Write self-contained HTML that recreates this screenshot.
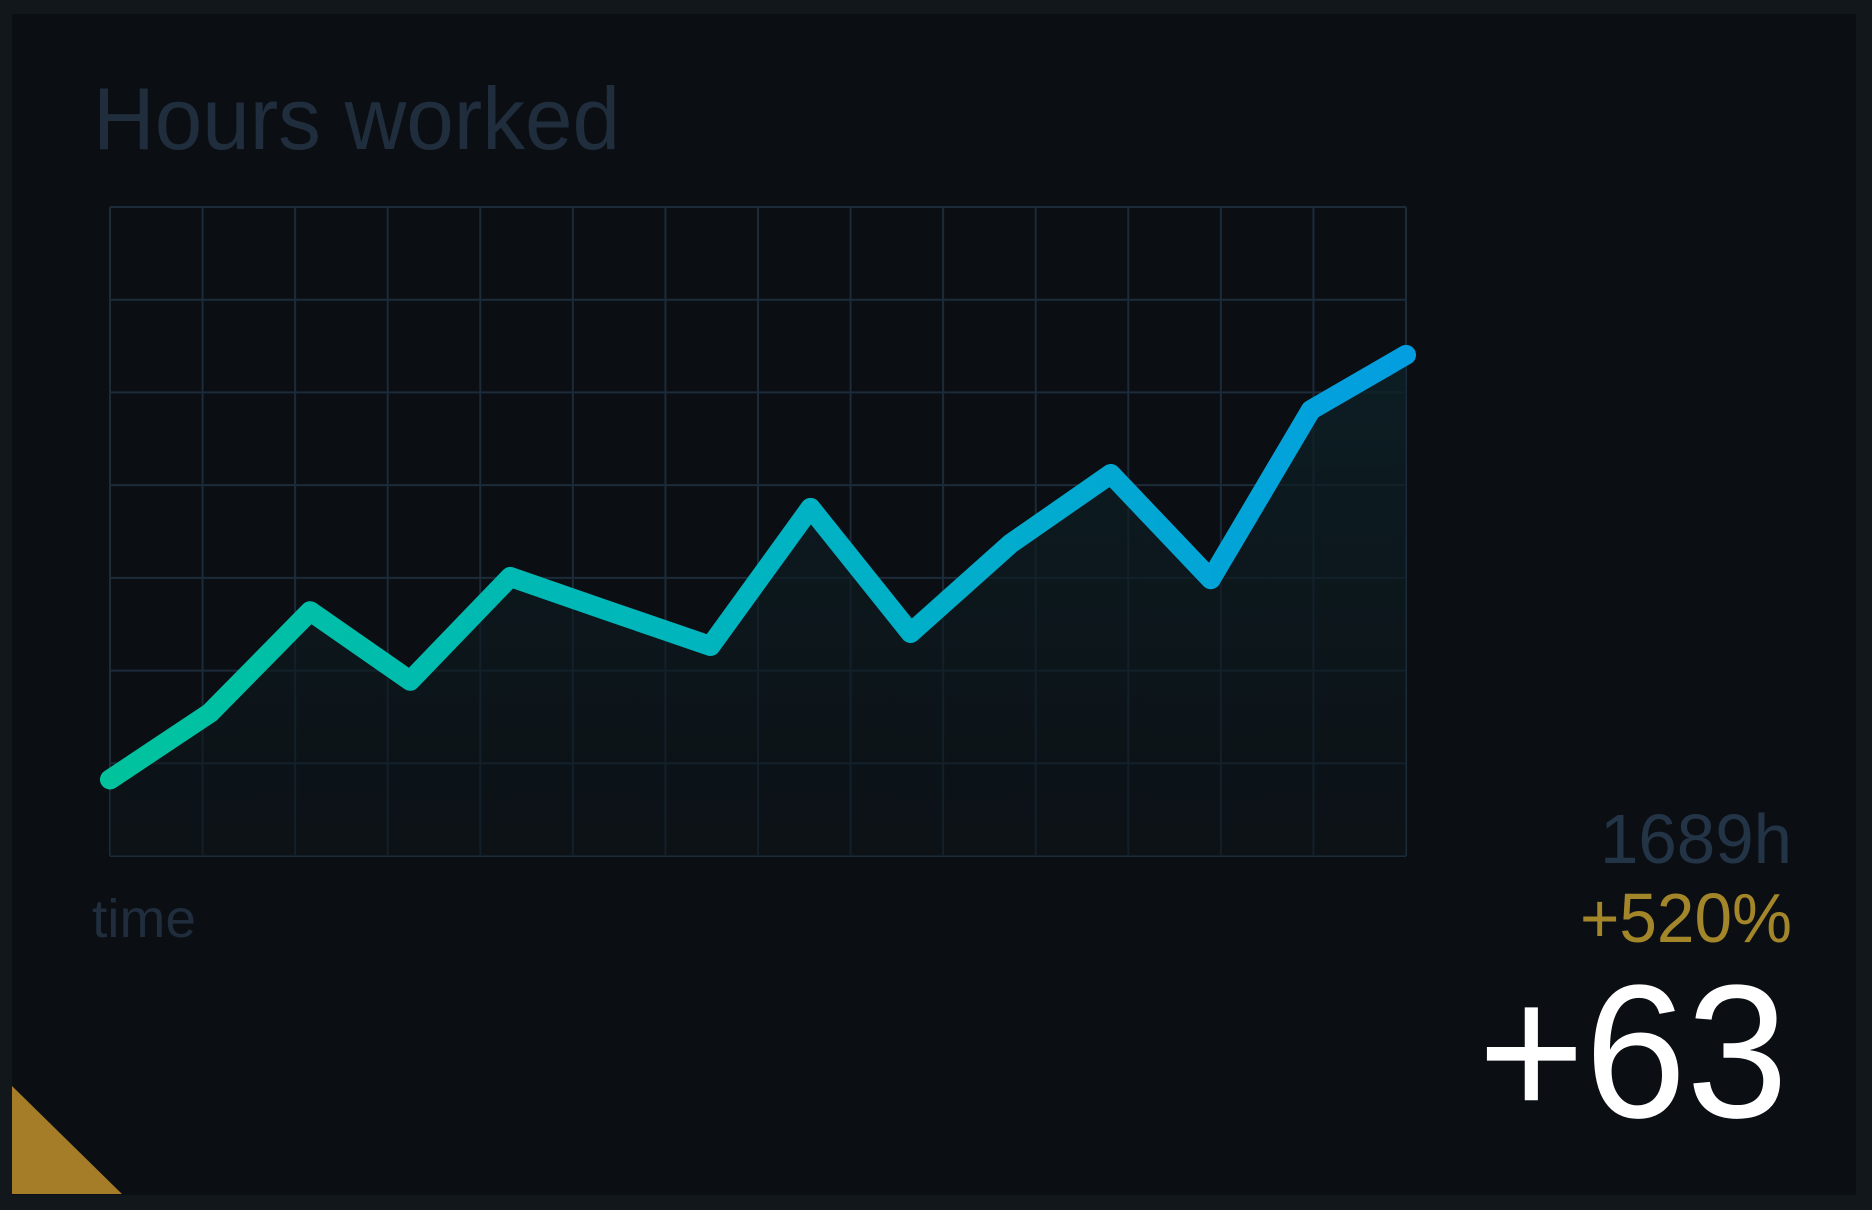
<!DOCTYPE html>
<html><head><meta charset="utf-8"><style>
html,body{margin:0;padding:0;background:#12171c;}
svg{display:block;}
text{font-family:"Liberation Sans",sans-serif;}
</style></head><body>
<svg id="chart" width="1872" height="1210" viewBox="0 0 1872 1210" xmlns="http://www.w3.org/2000/svg">
<defs>
<linearGradient id="lineGrad" x1="0" x2="1" y1="0" y2="0">
<stop offset="0" stop-color="#00c39d"/><stop offset="0.55" stop-color="#00b2c4"/><stop offset="1" stop-color="#039ee0"/>
</linearGradient>
<linearGradient id="fillGrad" x1="0" x2="0" y1="0" y2="1">
<stop offset="0" stop-color="#0d2228" stop-opacity="0.8"/><stop offset="1" stop-color="#0c1418" stop-opacity="0.5"/>
</linearGradient>
</defs>
<rect x="12" y="14" width="1844" height="1181" fill="#0b0f14"/>
<g id="grid"></g>
<path id="area" fill="url(#fillGrad)"/>
<path id="line" fill="none" stroke="url(#lineGrad)" stroke-width="20" stroke-linejoin="round" stroke-linecap="round"/>
<text x="93" y="149" font-size="88" fill="#1f2d3d" textLength="527" lengthAdjust="spacingAndGlyphs">Hours worked</text>
<text x="92" y="937" font-size="54" fill="#1f2d3d" textLength="104" lengthAdjust="spacingAndGlyphs">time</text>
<text x="1792" y="863" font-size="70" fill="#243447" text-anchor="end" textLength="192" lengthAdjust="spacingAndGlyphs">1689h</text>
<text x="1792" y="942" font-size="70" fill="#a3852a" text-anchor="end" textLength="212" lengthAdjust="spacingAndGlyphs">+520%</text>
<text x="1788" y="1117" font-size="190" fill="#ffffff" text-anchor="end" textLength="310" lengthAdjust="spacingAndGlyphs">+63</text>
<polygon points="12,1086 12,1194 122,1194" fill="#a57c27"/>
</svg>
<script>
const categories = [0,1,2,3,4,5,6,7,8,9,10,11,12,12.95];
const hours = [16.5,30.9,52.8,37.8,60.2,52.7,45.3,75.1,48.1,67.4,82.4,59.7,96.2,108.1];
const yTicks = [0,20,40,60,80,100,120,140];
const xGridCount = 14;

const X0=110, X1=1406, Y0=856, Y1=207;
function xScale(i){ return X0 + (i - categories[0])/(categories[categories.length-1]-categories[0])*(X1-X0); }
function yScale(v){ return Y0 - (v - yTicks[0])/(yTicks[yTicks.length-1]-yTicks[0])*(Y0-Y1); }

const NS="http://www.w3.org/2000/svg";
const grid=document.getElementById('grid');
for(let k=0;k<=xGridCount;k++){
  const x=X0+k*(X1-X0)/xGridCount;
  const l=document.createElementNS(NS,'line');
  
  
  l.setAttribute('x1',x);l.setAttribute('x2',x);l.setAttribute('y1',Y1);l.setAttribute('y2',Y0);
  l.setAttribute('stroke','#1c2b3a');l.setAttribute('stroke-width','2');
  grid.appendChild(l);
}
yTicks.forEach(t=>{
  const y=yScale(t);
  const l=document.createElementNS(NS,'line');
  
  
  l.setAttribute('x1',X0);l.setAttribute('x2',X1);l.setAttribute('y1',y);l.setAttribute('y2',y);
  l.setAttribute('stroke','#1c2b3a');l.setAttribute('stroke-width','2');
  grid.appendChild(l);
});
const pts=categories.map((c,i)=>[xScale(c),yScale(hours[i])]);
const d=pts.map((p,i)=>(i?'L':'M')+p[0].toFixed(1)+','+p[1].toFixed(1)).join(' ');
document.getElementById('line').setAttribute('d',d);
document.getElementById('area').setAttribute('d',d+' L'+pts[pts.length-1][0]+','+Y0+' L'+pts[0][0]+','+Y0+' Z');
</script>
</body></html>
